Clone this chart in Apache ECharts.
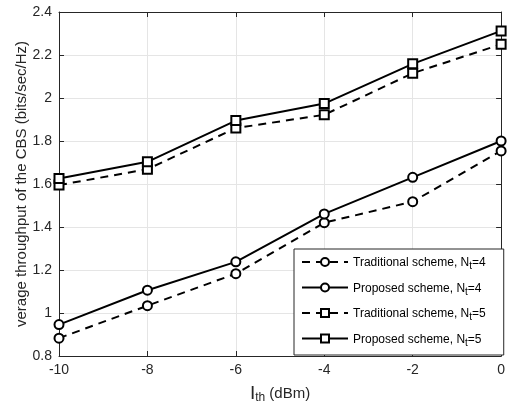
<!DOCTYPE html>
<html><head><meta charset="utf-8">
<script src="https://cdn.jsdelivr.net/npm/echarts@6/dist/echarts.min.js"></script>
<style>html,body{margin:0;padding:0;background:#fff}#c{width:508px;height:409px}</style>
</head><body><div id="c"></div>
<script>
const xValues = [-10, -8, -6, -4, -2, 0];
const tradNt4 = [0.883, 1.034, 1.183, 1.420, 1.518, 1.754];
const propNt4 = [0.946, 1.106, 1.238, 1.461, 1.631, 1.800];
const tradNt5 = [1.595, 1.669, 1.860, 1.922, 2.115, 2.250];
const propNt5 = [1.626, 1.703, 1.895, 1.974, 2.159, 2.312];
const seriesNames = ['Traditional scheme, N{sub|t}=4', 'Proposed scheme, N{sub|t}=4', 'Traditional scheme, N{sub|t}=5', 'Proposed scheme, N{sub|t}=5'];
const yTitle = 'verage throughput of the CBS (bits/sec/Hz)';

const FONT = 'Liberation Sans, Arial, sans-serif';
const AX = '#262626';
const GRID = '#e5e5e5';
function pairs(vals){ return xValues.map((x,i)=>[x, vals[i]]); }
function mk(name, vals, dashed, sym){
  return {
    name: name, type: 'line', data: pairs(vals),
    symbol: sym, symbolSize: 9,
    itemStyle: {color: '#000', borderColor: '#000', borderWidth: 2},
    lineStyle: {color: '#000', width: 2, type: dashed ? [8, 6] : 'solid'},
    emphasis: {disabled: true}, animation: false, z: 3
  };
}
const chart = echarts.init(document.getElementById('c'), null, {renderer: 'canvas'});
chart.setOption({
  backgroundColor: '#fff',
  animation: false,
  grid: {left: 59, right: 3, top: 12, bottom: 48, containLabel: false},
  xAxis: [{
    type: 'value', min: -10, max: 0, interval: 2,
    axisLine: {onZero: false, lineStyle: {color: AX, width: 1}},
    axisTick: {inside: true, length: 5, lineStyle: {color: AX}},
    axisLabel: {color: AX, fontFamily: FONT, fontSize: 14, margin: 7},
    splitLine: {show: true, lineStyle: {color: GRID, width: 1}},
    name: '{big|I}{sub|th}{n| (dBm)}', nameLocation: 'middle', nameGap: 28, nameMoveOverlap: false,
    nameTextStyle: {fontFamily: FONT, color: AX, rich: {
      big: {fontSize: 19, fontFamily: FONT, color: AX},
      sub: {fontSize: 12, fontFamily: FONT, color: AX, verticalAlign: 'bottom', padding: [8, 0, 0, 0]},
      n: {fontSize: 15, fontFamily: FONT, color: AX}
    }}
  }, {
    type: 'value', min: -10, max: 0, interval: 2, position: 'top',
    axisLine: {onZero: false, lineStyle: {color: AX, width: 1}},
    axisTick: {inside: true, length: 5, lineStyle: {color: AX}},
    axisLabel: {show: false}, splitLine: {show: false}
  }],
  yAxis: [{
    type: 'value', min: 0.8, max: 2.4, interval: 0.2,
    axisLine: {show: true, onZero: false, lineStyle: {color: AX, width: 1}},
    axisTick: {show: true, inside: true, length: 5, lineStyle: {color: AX}},
    axisLabel: {color: AX, fontFamily: FONT, fontSize: 14, margin: 7},
    splitLine: {show: true, lineStyle: {color: GRID, width: 1}},
    name: yTitle, nameLocation: 'middle', nameGap: 30, nameRotate: 90, nameMoveOverlap: false,
    nameTextStyle: {fontFamily: FONT, fontSize: 15, color: AX}
  }, {
    type: 'value', min: 0.8, max: 2.4, interval: 0.2, position: 'right',
    axisLine: {show: true, onZero: false, lineStyle: {color: AX, width: 1}},
    axisTick: {show: true, inside: true, length: 5, lineStyle: {color: AX}},
    axisLabel: {show: false}, splitLine: {show: false}
  }],
  legend: {
    orient: 'vertical', left: 294, top: 249,
    backgroundColor: '#fff', borderColor: AX, borderWidth: 1,
    padding: [8, 18, 7, 7], itemGap: 11, itemWidth: 46, itemHeight: 10, itemTextGap: 0,
    data: seriesNames,
    formatter: function(n){ return n; },
    textStyle: {fontFamily: FONT, fontSize: 12, color: '#000', height: 15, rich: {
      sub: {fontSize: 10, fontFamily: FONT, color: '#000', verticalAlign: 'bottom', padding: [7, 0, 0, 0]}
    }}
  },
  series: [
    mk(seriesNames[0], tradNt4, true, 'emptyCircle'),
    mk(seriesNames[1], propNt4, false, 'emptyCircle'),
    mk(seriesNames[2], tradNt5, true, 'emptyRect'),
    mk(seriesNames[3], propNt5, false, 'emptyRect')
  ]
});
</script></body></html>
